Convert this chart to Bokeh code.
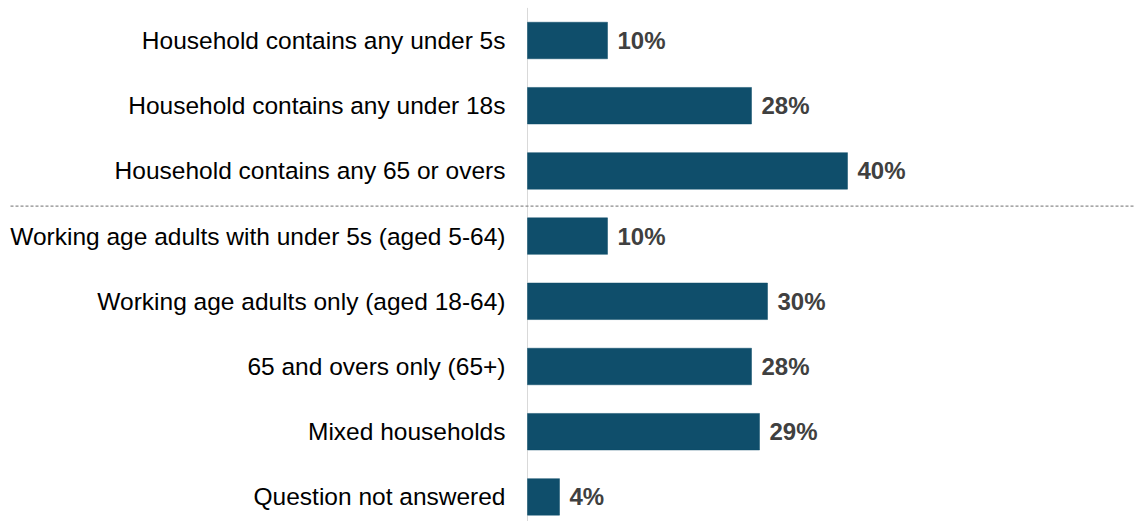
from bokeh.plotting import figure
from bokeh.models import Range1d, ColumnDataSource
from bokeh.core.properties import value
from bokeh.embed import file_html
from bokeh.resources import INLINE

# Household composition shares (%)
categories = [
    "Household contains any under 5s",
    "Household contains any under 18s",
    "Household contains any 65 or overs",
    "Working age adults with under 5s (aged 5-64)",
    "Working age adults only (aged 18-64)",
    "65 and overs only (65+)",
    "Mixed households",
    "Question not answered",
]
shares = [10, 28, 40, 10, 30, 28, 29, 4]
share_labels = [f"{v}%" for v in shares]

W, H = 1134, 521
axis_px = 527          # pixel position of the zero line
px_per_unit = 8.0      # pixels per percentage point
row_px = 65.2
first_row_px = 40.0

rows = list(range(len(categories)))
src = ColumnDataSource(dict(y=rows, v=shares, cat=categories, lab=share_labels))

x_range = Range1d(-axis_px / px_per_unit, (W - axis_px) / px_per_unit)
y_range = Range1d((H - first_row_px) / row_px, -first_row_px / row_px)

p = figure(width=W, height=H, x_range=x_range, y_range=y_range,
           output_backend="svg", toolbar_location=None,
           min_border=0, min_border_left=0, min_border_right=0,
           min_border_top=0, min_border_bottom=0)
p.axis.visible = False
p.grid.visible = False
p.outline_line_color = None
p.background_fill_color = "white"
p.border_fill_color = "white"

# zero line
p.segment(x0=[0], y0=[-0.5], x1=[0], y1=[y_range.start], line_color="#d9d9d9", line_width=1)

# divider between the two groups
p.segment(x0=[x_range.start + 10 / px_per_unit], y0=[2.54], x1=[x_range.end], y1=[2.54],
          line_color="#8c8c8c", line_width=1.2, line_dash="3 2")

p.hbar(y="y", left=0, right="v", height=0.56, source=src,
       fill_color="#0f4e6b", line_color="#0f4e6b", line_width=0.5)

p.text(x=0, y="y", text="cat", source=src, x_offset=-22,
       text_align="right", text_baseline="middle",
       text_font=value("Liberation Sans"), text_font_size="24.5px", text_color="#000000")

p.text(x="v", y="y", text="lab", source=src, x_offset=10,
       text_align="left", text_baseline="middle",
       text_font=value("Liberation Sans"), text_font_size="24px",
       text_font_style="bold", text_color="#404040")

open("out.html", "w").write(file_html(p, INLINE))
